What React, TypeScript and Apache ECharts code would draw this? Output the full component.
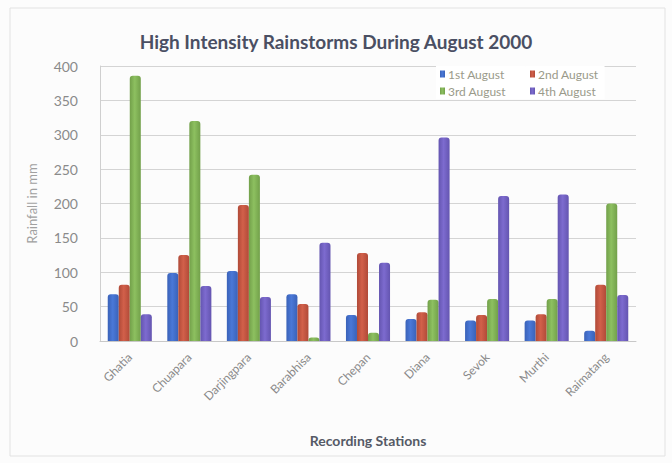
import React, { useEffect, useRef } from "react";
import * as echarts from "echarts";

const stations = ["Ghatia", "Chuapara", "Darjingpara", "Barabhisa", "Chepan", "Diana", "Sevok", "Murthi", "Raimatang"];
const aug1 = [68, 99, 102, 68, 38, 32, 30, 30, 15];
const aug2 = [82, 125, 198, 54, 128, 42, 38, 39, 82];
const aug3 = [386, 320, 242, 5, 12, 60, 61, 61, 200];
const aug4 = [39, 80, 64, 143, 114, 296, 211, 213, 67];
const seriesNames = ["1st August", "2nd August", "3rd August", "4th August"];
const colors = ["#4a78d8", "#d2604a", "#8dc060", "#7d6bcf"];
const edgeColors = ["#3a62b8", "#b04a38", "#72a04a", "#6455b0"];
const yTicks = { min: 0, max: 400, interval: 50 };

const legendBase = {
  orient: "vertical",
  top: 66,
  itemWidth: 5,
  itemHeight: 7,
  itemGap: 5,
  backgroundColor: "#ffffff",
  icon: "rect",
  textStyle: { fontSize: 12, color: "#9a9a8a", fontFamily: "Lato", padding: [0, 0, 0, -2] },
};

export default function App() {
  const ref = useRef<HTMLDivElement>(null);
  useEffect(() => {
    const chart = echarts.init(ref.current!, null, { renderer: "svg" });
    const data = [aug1, aug2, aug3, aug4];
    chart.setOption({
      animation: false,
      backgroundColor: "#fcfcfc",
      color: colors,
      textStyle: { fontFamily: "Lato" },
      title: {
        text: "High Intensity Rainstorms During August 2000",
        left: "center",
        top: 27,
        textStyle: { fontFamily: "Lato", fontSize: 19, fontWeight: "bold", color: "#4a4f63" },
      },
      legend: [
        { ...legendBase, left: 436, padding: [2, 20, 2, 4], data: [seriesNames[0], seriesNames[2]] },
        { ...legendBase, left: 526, padding: [2, 6, 2, 4], data: [seriesNames[1], seriesNames[3]] },
      ],
      graphic: [
        {
          type: "rect",
          shape: { x: 10, y: 8, width: 655, height: 448 },
          style: { fill: "none", stroke: "#e2e2e2", lineWidth: 1 },
          silent: true,
        },
      ],
      grid: { left: 100, right: 36, top: 66, bottom: 122 },
      xAxis: {
        type: "category",
        data: stations,
        name: "Recording Stations",
        nameLocation: "middle",
        nameGap: 92,
        nameTextStyle: { fontSize: 14, fontWeight: "bold", color: "#555a66", fontFamily: "Lato" },
        axisLine: { lineStyle: { color: "#c8c8c8" } },
        axisTick: { show: false },
        axisLabel: { rotate: 45, color: "#8a8a8a", fontSize: 12, margin: 14 },
      },
      yAxis: {
        type: "value",
        ...yTicks,
        name: "Rainfall in mm",
        nameLocation: "middle",
        nameGap: 62,
        nameTextStyle: { fontSize: 13, color: "#a0a0a0", fontFamily: "Lato" },
        axisLine: { show: true, lineStyle: { color: "#cfcfcf" } },
        axisTick: { show: false },
        axisLabel: { color: "#8a8a8a", fontSize: 14, margin: 22 },
        splitLine: { lineStyle: { color: "#d4d4d4" } },
      },
      series: seriesNames.map((name, i) => ({
        name,
        type: "bar",
        data: data[i],
        barGap: "0%",
        barCategoryGap: "26%",
        itemStyle: {
          borderRadius: [3, 3, 0, 0],
          color: new echarts.graphic.LinearGradient(0, 0, 1, 0, [
            { offset: 0, color: edgeColors[i] },
            { offset: 0.45, color: colors[i] },
            { offset: 1, color: edgeColors[i] },
          ]),
        },
      })),
    });
    return () => chart.dispose();
  }, []);
  return <div ref={ref} style={{ position: "fixed", left: 0, top: 0, width: 672, height: 463 }} />;
}
